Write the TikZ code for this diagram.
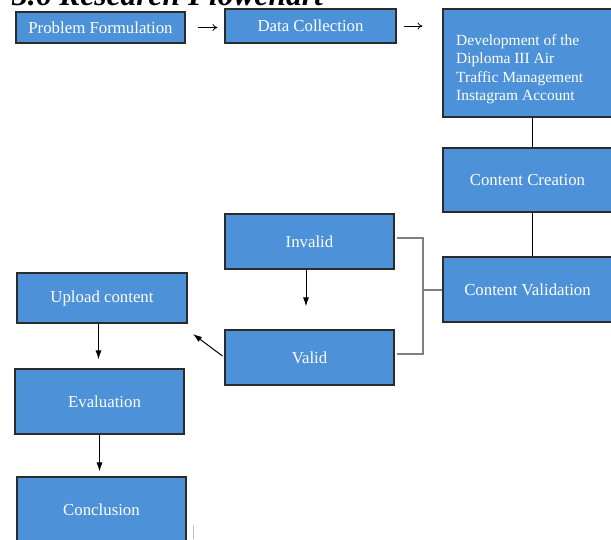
\documentclass[tikz,border=0pt]{standalone}
\usepackage{fontspec}
\setmainfont{Liberation Serif}
\usepackage{xcolor}
\definecolor{BoxBlue}{HTML}{4D92D8}
\definecolor{BoxEdge}{HTML}{2B2B2B}
\usepackage{tikz}
\usetikzlibrary{arrows.meta,calc}

\begin{document}
\begin{tikzpicture}[x=1pt,y=-1pt,
    box/.style={draw=BoxEdge,line width=1.1pt,fill=BoxBlue,text=white,align=center,inner sep=0pt,font=\fontsize{16.8}{19}\selectfont},
    boxtext/.style={text=white,align=left,inner sep=0pt,font=\fontsize{15.5}{18.5}\selectfont},
    flow/.style={-{Latex[length=9pt,width=6pt]},line width=1pt},
    glypharrow/.style={-{To[length=5pt,width=7pt]},line width=0.8pt},
    bracket/.style={draw=gray,line width=1.3pt}]
    \clip (0,0) rectangle (611,539);
    % heading, cut off by the top of the page
    \node[anchor=base west,inner sep=0pt,font=\fontsize{31.5}{34}\selectfont\bfseries\itshape] (heading) at (12,5) {3.6  Research Flowchart};
    \node[box,minimum width=169pt,minimum height=31pt] (pf) at (100.5,27.5) {Problem Formulation};
    \node[box,minimum width=171pt,minimum height=34pt] (dc) at (310.5,26) {Data Collection};
    \node[box,minimum width=178pt,minimum height=108pt] (dev) at (532,63) {};
    \node[boxtext,anchor=north west] (devtext) at (456,34) {Development of the\\Diploma III Air\\Traffic Management\\Instagram Account};
    \node[box,minimum width=178pt,minimum height=64pt] (cc) at (532,180) {\hspace*{-9pt}Content Creation};
    \node[box,minimum width=178pt,minimum height=65pt] (cv) at (532,289.5) {\hspace*{-9pt}Content Validation};
    \node[box,minimum width=169pt,minimum height=55pt] (inv) at (309.5,241.5) {Invalid};
    \node[box,minimum width=169pt,minimum height=55pt] (val) at (309.5,357.5) {Valid};
    \node[box,minimum width=170pt,minimum height=50pt] (up) at (102,298) {Upload content};
    \node[box,minimum width=169pt,minimum height=65pt] (ev) at (99.5,401.5) {\hspace*{10pt}Evaluation};
    \node[box,minimum width=169pt,minimum height=66pt] (con) at (101.5,510) {Conclusion};
    \coordinate (fork) at (423,290);
    \coordinate (uptip) at (193,334);

    \draw[glypharrow,shorten <=12pt,shorten >=7pt] (pf.east) -- (pf.east -| dc.west);
    \draw[glypharrow,shorten <=7pt,shorten >=20pt] (dc.east) -- (dc.east -| dev.west);
    \draw[line width=1pt] (dev) -- (cc);
    \draw[line width=1pt] (cc) -- (cv);
    \draw[bracket] ([shift={(2pt,3.5pt)}]inv.east) -| (fork) |- ([shift={(2pt,3.5pt)}]val.east);
    \draw[bracket] (fork) -- (fork -| cv.west);
    \draw[flow,shorten >=23pt] ([xshift=-3.5pt]inv.south) -- ([xshift=-3.5pt]val.north);
    \draw[flow] ([shift={(-2pt,1.5pt)}]val.west) -- (uptip);
    \draw[flow,shorten >=9pt] ([xshift=-3.5pt]up.south) -- ([xshift=-3.5pt]up.south |- ev.north);
    \draw[flow,shorten >=5pt] (ev.south) -- (ev.south |- con.north);
    \draw[gray!50,line width=0.8pt] (193,525) -- (193,539);
\end{tikzpicture}
\end{document}
